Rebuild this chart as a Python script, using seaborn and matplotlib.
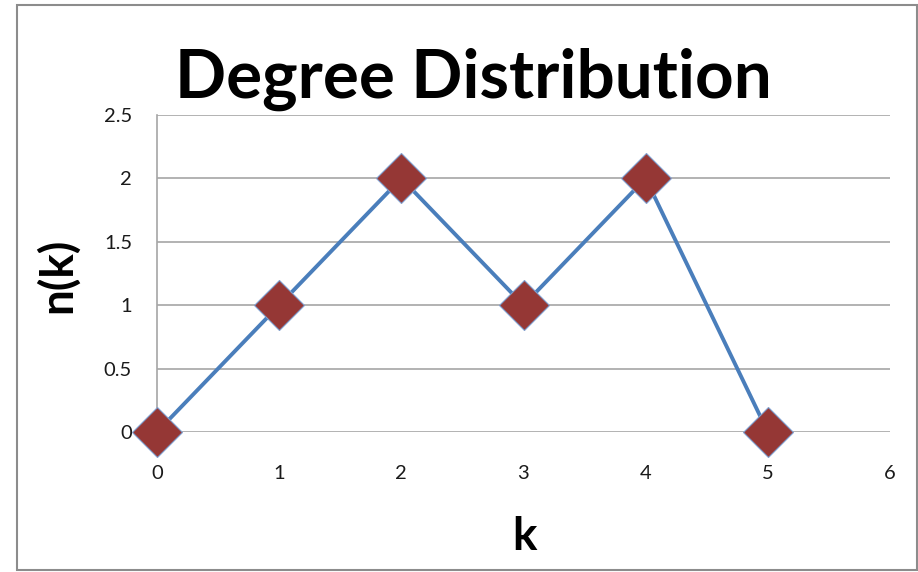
import matplotlib
matplotlib.use("Agg")
import matplotlib.pyplot as plt
import seaborn as sns
import pandas as pd

# Degree distribution data
k_values = [0, 1, 2, 3, 4, 5]
n_values = [0, 1, 2, 1, 2, 0]
x_ticks = [0, 1, 2, 3, 4, 5, 6]
y_ticks = [0, 0.5, 1, 1.5, 2, 2.5]
y_tick_labels = ["0", "0.5", "1", "1.5", "2", "2.5"]

sns.set_theme(style="white")
plt.rcParams["font.family"] = ["Lato", "DejaVu Sans"]

df = pd.DataFrame({"k": k_values, "n(k)": n_values})

fig = plt.figure(figsize=(9.18, 5.72), dpi=100)
ax = fig.add_axes([157 / 918, 1 - 432 / 572, (890 - 157) / 918, (432 - 115) / 572])

sns.lineplot(
    data=df, x="k", y="n(k)", ax=ax,
    color="#4a7ebb", linewidth=2.8,
    marker="D", markersize=25,
    markerfacecolor="#953735", markeredgecolor="#7f9fcf", markeredgewidth=0.8,
    clip_on=False, zorder=3,
)

ax.set_xlim(0, 6)
ax.set_ylim(0, 2.5)
ax.set_xticks(x_ticks)
ax.set_yticks(y_ticks)
ax.set_yticklabels(y_tick_labels)
ax.yaxis.grid(True, color="#a6a6a6", linewidth=1.2)
ax.xaxis.grid(False)
ax.tick_params(axis="both", length=0, labelsize=14.5, colors="#1a1a1a")
ax.tick_params(axis="x", pad=24)
ax.tick_params(axis="y", pad=18)

for side in ["top", "right", "bottom"]:
    ax.spines[side].set_visible(False)
ax.spines["left"].set_color("#a6a6a6")
ax.spines["left"].set_linewidth(1.2)

ax.set_xlabel("")
ax.set_ylabel("")
fig.text(524 / 918, 1 - 537 / 572, "k", fontsize=33, fontweight="bold",
         ha="center", va="center", color="black")
fig.text(57 / 918, 1 - 275 / 572, "n(k)", fontsize=33, fontweight="bold",
         ha="center", va="center", rotation=90, color="black")

fig.text(473 / 918, 1 - 79 / 572, "Degree Distribution", fontsize=48.5,
         fontweight="bold", ha="center", va="center", color="black")

# Outer frame of the chart area
fig.patches.append(plt.Rectangle((17 / 918, 1 - 570 / 572), (917 - 17) / 918, (570 - 5) / 572,
                                 transform=fig.transFigure, fill=False,
                                 edgecolor="#8c8c8c", linewidth=1.5))

fig.savefig("out.png", dpi=100)
